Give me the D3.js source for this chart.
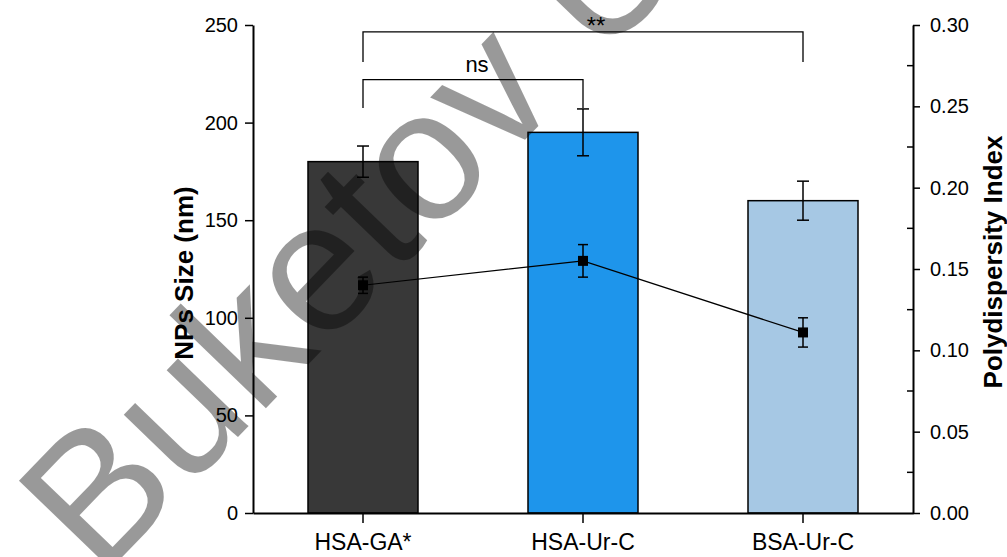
<!DOCTYPE html>
<html>
<head>
<meta charset="utf-8">
<script src="https://cdn.jsdelivr.net/npm/d3@7"></script>
<style>
  body { margin: 0; background: #fff; }
  text { font-family: "Liberation Sans", Arial, sans-serif; }
</style>
</head>
<body>
<div id="chart"></div>
<script>
// Data
const categories = ["HSA-GA*", "HSA-Ur-C", "BSA-Ur-C"];
const sizeValues = [180, 195, 160];      // NPs size (nm)
const sizeErrors = [8, 12, 10];
const pdiValues = [0.14, 0.155, 0.111];  // polydispersity index
const pdiErrors = [0.005, 0.01, 0.009];
const barColors = ["#383838", "#1e95eb", "#a6c8e4"];
const sizeTicks = [0, 50, 100, 150, 200, 250];
const pdiTicks = [0, 0.05, 0.10, 0.15, 0.20, 0.25, 0.30];
const pdiMinorTicks = [0.025, 0.075, 0.125, 0.175, 0.225, 0.275];
// significance brackets (bar indexes, label, heights in nm)
const brackets = [
    { a: 0, b: 1, label: "ns", top: 222, leg: 207.5 },
    { a: 0, b: 2, label: "**", top: 246.5, leg: 231 }
];

const width = 1007;
const height = 557;
const margin = { top: 25, right: 94, bottom: 44, left: 253 };

const svg = d3.select("#chart")
    .append("svg")
    .attr("width", width)
    .attr("height", height);

const x = d3.scaleBand()
    .domain(categories)
    .range([margin.left, width - margin.right])
    .paddingInner(0.5)
    .paddingOuter(0.25);

const y = d3.scaleLinear()
    .domain([0, 250])
    .range([height - margin.bottom, margin.top]);

const y2 = d3.scaleLinear()
    .domain([0, 0.30])
    .range([height - margin.bottom, margin.top]);

const cx = d => x(d) + x.bandwidth() / 2;

// Bars
svg.selectAll("rect.bar")
    .data(categories)
    .enter().append("rect")
    .attr("class", "bar")
    .attr("x", d => x(d))
    .attr("y", (d, i) => y(sizeValues[i]))
    .attr("width", x.bandwidth())
    .attr("height", (d, i) => y(0) - y(sizeValues[i]))
    .attr("fill", (d, i) => barColors[i])
    .attr("stroke", "#000")
    .attr("stroke-width", 1.5);

// Bar error bars
const sizeErr = svg.append("g").attr("stroke", "#000").attr("stroke-width", 1.5);
categories.forEach((c, i) => {
    const top = y(sizeValues[i] + sizeErrors[i]);
    const bot = y(sizeValues[i] - sizeErrors[i]);
    sizeErr.append("line").attr("x1", cx(c)).attr("x2", cx(c)).attr("y1", top).attr("y2", bot);
    sizeErr.append("line").attr("x1", cx(c) - 6).attr("x2", cx(c) + 6).attr("y1", top).attr("y2", top);
    sizeErr.append("line").attr("x1", cx(c) - 6).attr("x2", cx(c) + 6).attr("y1", bot).attr("y2", bot);
});

// PDI line + error bars + squares
const line = d3.line()
    .x((d, i) => cx(categories[i]))
    .y(d => y2(d));

svg.append("path")
    .datum(pdiValues)
    .attr("d", line)
    .attr("fill", "none")
    .attr("stroke", "#000")
    .attr("stroke-width", 1.2);

const pdiErr = svg.append("g").attr("stroke", "#000").attr("stroke-width", 1.5);
categories.forEach((c, i) => {
    const top = y2(pdiValues[i] + pdiErrors[i]);
    const bot = y2(pdiValues[i] - pdiErrors[i]);
    pdiErr.append("line").attr("x1", cx(c)).attr("x2", cx(c)).attr("y1", top).attr("y2", bot);
    pdiErr.append("line").attr("x1", cx(c) - 5).attr("x2", cx(c) + 5).attr("y1", top).attr("y2", top);
    pdiErr.append("line").attr("x1", cx(c) - 5).attr("x2", cx(c) + 5).attr("y1", bot).attr("y2", bot);
});

svg.selectAll("rect.pt")
    .data(pdiValues)
    .enter().append("rect")
    .attr("class", "pt")
    .attr("x", (d, i) => cx(categories[i]) - 5)
    .attr("y", d => y2(d) - 5)
    .attr("width", 10)
    .attr("height", 10)
    .attr("fill", "#000");

// Significance brackets
brackets.forEach(b => {
    const x1 = cx(categories[b.a]);
    const x2 = cx(categories[b.b]);
    svg.append("path")
        .attr("d", `M${x1},${y(b.leg)}V${y(b.top)}H${x2}V${y(b.leg)}`)
        .attr("fill", "none")
        .attr("stroke", "#000")
        .attr("stroke-width", 1.3);
    const isStar = b.label === "**";
    svg.append("text")
        .attr("x", (x1 + x2) / 2 + (isStar ? 13 : 4))
        .attr("y", isStar ? y(b.top) + 2 : y(b.top) - 8)
        .attr("text-anchor", "middle")
        .attr("font-size", isStar ? "24px" : "22px")
        .text(b.label);
});

// Axes
const xAxis = svg.append("g")
    .attr("transform", `translate(0,${height - margin.bottom})`)
    .call(d3.axisBottom(x).tickSize(10).tickSizeOuter(0).tickPadding(11));
xAxis.selectAll("text").attr("font-size", "23px").attr("fill", "#000")
    .attr("font-family", "Liberation Sans, Arial, sans-serif");

const yAxis = svg.append("g")
    .attr("transform", `translate(${margin.left},0)`)
    .call(d3.axisLeft(y).tickValues(sizeTicks).tickSize(8).tickSizeOuter(0).tickPadding(7));
yAxis.selectAll("text").attr("font-size", "20px").attr("fill", "#000")
    .attr("font-family", "Liberation Sans, Arial, sans-serif");

const y2Axis = svg.append("g")
    .attr("transform", `translate(${width - margin.right},0)`)
    .call(d3.axisRight(y2).tickValues(pdiTicks).tickFormat(d3.format(".2f"))
        .tickSize(7).tickSizeOuter(0).tickPadding(10));
y2Axis.selectAll("text").attr("font-size", "20px").attr("fill", "#000")
    .attr("font-family", "Liberation Sans, Arial, sans-serif");

// minor ticks on right axis, pointing inward
y2Axis.selectAll("line.minor")
    .data(pdiMinorTicks)
    .enter().append("line")
    .attr("class", "minor")
    .attr("x1", 0).attr("x2", -6)
    .attr("y1", d => y2(d)).attr("y2", d => y2(d))
    .attr("stroke", "#000").attr("stroke-width", 1.5);

[xAxis, yAxis, y2Axis].forEach(a => {
    a.select(".domain").attr("stroke-width", 2);
    a.selectAll(".tick line").attr("stroke-width", 1.5);
});

// Axis titles
svg.append("text")
    .attr("transform", `translate(193,${(y(0) + y(250)) / 2 + 4}) rotate(-90)`)
    .attr("text-anchor", "middle")
    .attr("font-size", "26px")
    .attr("font-weight", "bold")
    .text("NPs Size (nm)");

svg.append("text")
    .attr("transform", `translate(1002,${(y(0) + y(250)) / 2 - 7}) rotate(-90)`)
    .attr("text-anchor", "middle")
    .attr("font-size", "26px")
    .attr("font-weight", "bold")
    .text("Polydispersity Index");

// Watermark
svg.append("text")
    .attr("transform", "translate(100,580) rotate(-46)")
    .attr("font-size", "185px")
    .attr("fill", "#000")
    .attr("fill-opacity", 0.4)
    .text("Buketov U");
</script>
</body>
</html>
